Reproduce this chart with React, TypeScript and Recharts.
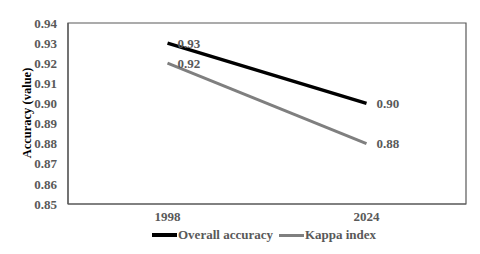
import { LineChart, Line, XAxis, YAxis, Legend, LabelList, ReferenceArea } from 'recharts'

const years = ['1998', '2024']
const overallAccuracy = [0.93, 0.9]
const kappaIndex = [0.92, 0.88]
const yTicks = [0.85, 0.86, 0.87, 0.88, 0.89, 0.9, 0.91, 0.92, 0.93, 0.94]

const data = years.map((y, i) => ({ year: y, overall: overallAccuracy[i], kappa: kappaIndex[i] }))

const font = 'Liberation Serif, serif'
const textColor = '#595959'
const axisColor = '#595959'

const series = [
  { key: 'overall', name: 'Overall accuracy', color: '#000000', width: 3.5 },
  { key: 'kappa', name: 'Kappa index', color: '#7f7f7f', width: 3 },
]

const LegendContent = () => (
  <div style={{ display: 'flex', alignItems: 'center', fontFamily: font, fontWeight: 'bold', fontSize: 13, color: textColor }}>
    {series.map((s) => (
      <div key={s.key} style={{ display: 'flex', alignItems: 'center', marginRight: 6 }}>
        <div style={{ width: 25, height: s.width, background: s.color, marginRight: 1 }} />
        <span>{s.name}</span>
      </div>
    ))}
  </div>
)

const YLabel = () => (
  <text
    x={27}
    y={113}
    transform="rotate(-90 27 113)"
    textAnchor="middle"
    dominantBaseline="central"
    style={{ fontFamily: font, fontWeight: 'bold', fontSize: 12.5 }}
    fill="#000"
  >
    Accuracy (value)
  </text>
)

const tickStyle = { fontFamily: font, fontWeight: 'bold', fontSize: 13, fill: textColor }

export default function App() {
  return (
    <div style={{ position: 'absolute', left: 0, top: 0, width: 480, height: 254, background: '#fff', fontFamily: font }}>
      <LineChart width={480} height={254} data={data} margin={{ top: 23, right: 14, left: 0, bottom: 0 }} style={{ fontFamily: font }}>
        <XAxis
          dataKey="year"
          height={50}
          padding={{ left: 99.5, right: 99.5 }}
          tickLine={false}
          stroke={axisColor}
          strokeWidth={1.2}
          interval={0}
          tick={{ style: tickStyle }}
        />
        <XAxis xAxisId="frame" type="number" domain={[0, 1]} hide />
        <YAxis
          domain={[0.85, 0.94]}
          ticks={yTicks}
          interval={0}
          width={68}
          tickFormatter={(v: number) => v.toFixed(2)}
          tickLine={false}
          tickSize={0}
          tickMargin={11}
          stroke={axisColor}
          strokeWidth={1.2}
          tick={{ style: tickStyle }}
          label={<YLabel />}
        />
        <ReferenceArea xAxisId="frame" x1={0} x2={1} y1={0.85} y2={0.94} fill="none" stroke={axisColor} strokeWidth={1.2} ifOverflow="visible" />
        <Legend
          layout="horizontal"
          verticalAlign="middle"
          content={<LegendContent />}
          wrapperStyle={{ top: 227, left: 152, width: 300 }}
        />
        {series.map((s) => (
          <Line
            key={s.key}
            dataKey={s.key}
            name={s.name}
            stroke={s.color}
            strokeWidth={s.width}
            dot={false}
            activeDot={false}
            isAnimationActive={false}
          >
            <LabelList
              dataKey={s.key}
              position="right"
              offset={10}
              formatter={(v: number) => v.toFixed(2)}
              style={tickStyle}
            />
          </Line>
        ))}
      </LineChart>
    </div>
  )
}
